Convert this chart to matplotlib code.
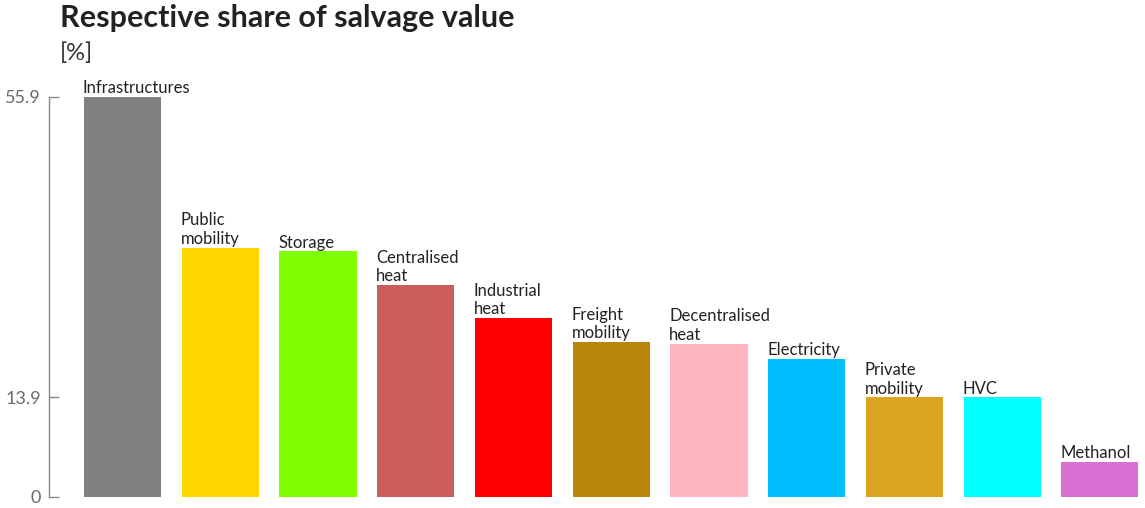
import matplotlib.pyplot as plt

plt.rcParams['font.family'] = ['Lato', 'DejaVu Sans']

# share of salvage value per sector, in %
sectors = ['Infrastructures', 'Public\nmobility', 'Storage', 'Centralised\nheat',
           'Industrial\nheat', 'Freight\nmobility', 'Decentralised\nheat',
           'Electricity', 'Private\nmobility', 'HVC', 'Methanol']
shares = [55.9, 34.8, 34.3, 29.6, 25.0, 21.6, 21.4, 19.3, 13.9, 13.9, 4.9]
colors = ['#808080', '#FFD700', '#7FFF00', '#CD5C5C', '#FF0000', '#B8860B',
          '#FFB6C1', '#00BFFF', '#DAA520', '#00FFFF', '#DA70D6']
yticks = [0, 13.9, 55.9]

fig = plt.figure(figsize=(11.45, 5.08), dpi=100)
ax = fig.add_axes([0.0428, 0.0222, 0.9528, 0.7874])

w = 0.79
xs = list(range(len(sectors)))
ax.bar(xs, shares, width=w, color=colors)

for x, v, name in zip(xs, shares, sectors):
    ax.text(x - w / 2 - 0.01, v + 0.1, name, ha='left', va='bottom',
            fontsize=12, color='#222222', linespacing=1.2, clip_on=False)

ax.set_xlim(-0.752, 10.41)
ax.set_ylim(0, 55.9)
ax.set_xticks([])
ax.set_yticks(yticks)
ax.set_yticklabels(['0', '13.9', '55.9'])
ax.tick_params(axis='y', direction='in', length=7, width=1, color='#888888',
               labelcolor='#6a6a6a', labelsize=13, pad=6)

for s in ['top', 'right', 'bottom']:
    ax.spines[s].set_visible(False)
ax.spines['left'].set_color('#888888')
ax.spines['left'].set_linewidth(1)

fig.text(0.052, 0.947, 'Respective share of salvage value', fontsize=22,
         fontweight='bold', color='#222222', va='baseline')
fig.text(0.052, 0.882, '[%]', fontsize=17, color='#333333', va='baseline')

fig.savefig('out.png', dpi=100)
